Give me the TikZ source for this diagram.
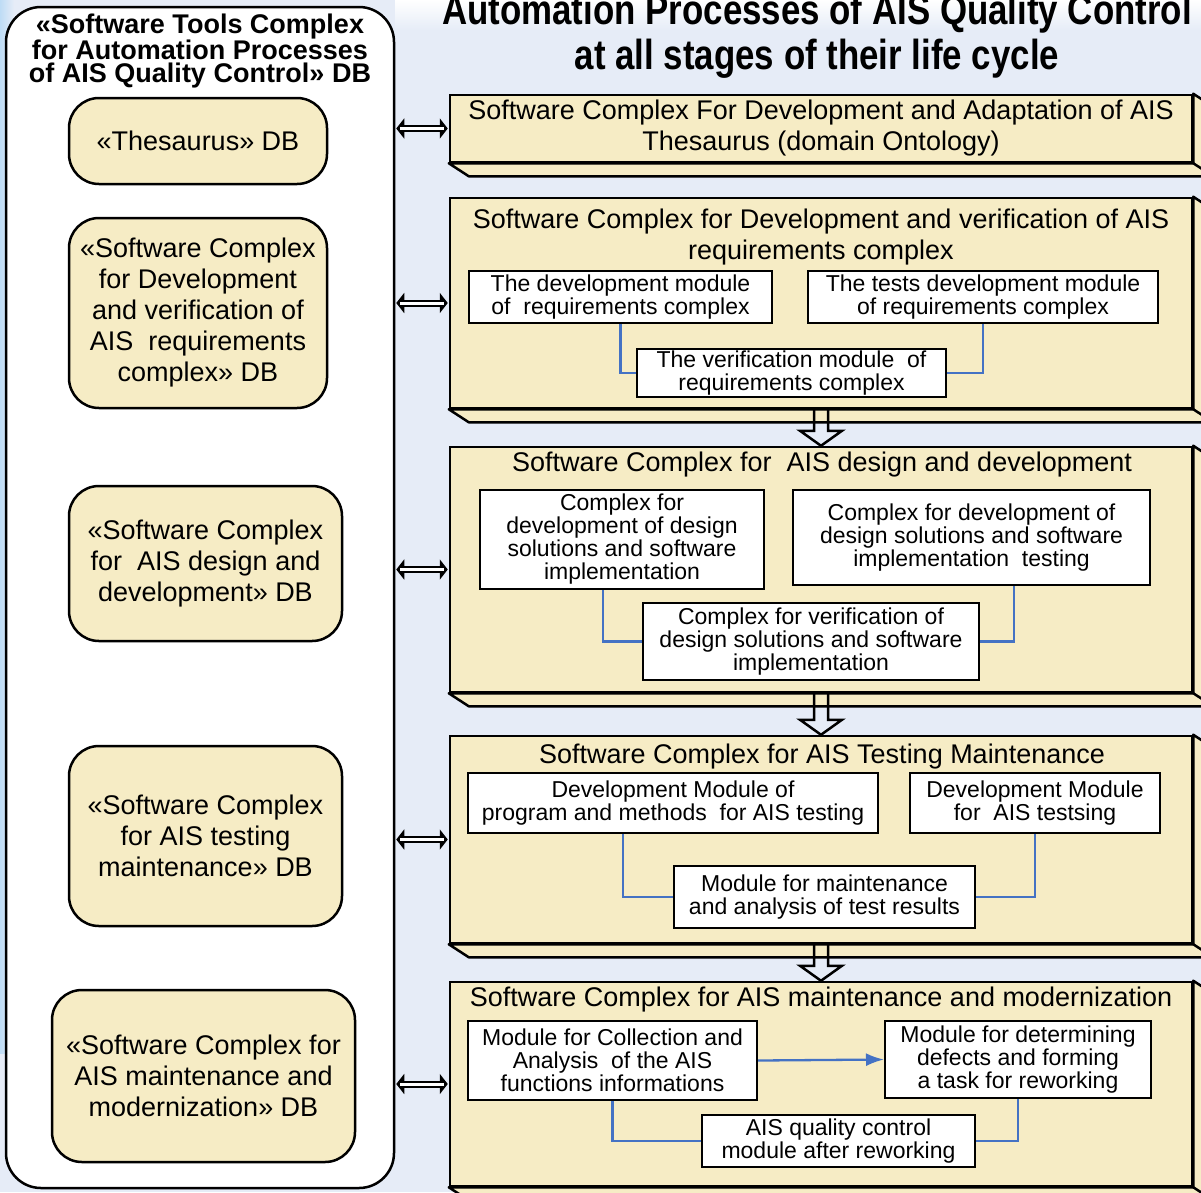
\documentclass[tikz,border=0pt]{standalone}
\usepackage{fontspec}
\setmainfont{Liberation Sans}
\newfontfamily\narrowfont[FakeStretch=0.83]{Liberation Sans}
\usetikzlibrary{arrows.meta,calc}

\definecolor{paper}{RGB}{230,236,247}
\definecolor{sand}{RGB}{246,236,197}
\definecolor{linkblue}{RGB}{68,114,196}
\definecolor{edgeblue}{RGB}{190,220,245}

\newcommand{\stagefont}{\fontsize{27}{31}\selectfont}
\newcommand{\modfont}{\fontsize{23}{23}\selectfont}
\newcommand{\headfont}{\fontsize{27}{23.5}\selectfont\bfseries}

\tikzset{
  dbbox/.style={draw, line width=2.5pt, rounded corners=30pt, fill=sand, align=center, font=\stagefont},
  stage/.style={draw, line width=2.5pt, fill=sand, align=center, font=\stagefont, minimum width=742},
  module/.style={draw, line width=2pt, fill=white, align=center, inner sep=0pt, font=\modfont},
  link/.style={draw=linkblue, line width=2.3pt},
  twoway/.style={line width=7pt, {Triangle[length=8pt,width=20pt]}-{Triangle[length=8pt,width=20pt]},
    postaction={draw=white, line width=3pt, arrows=-, shorten <=4pt, shorten >=4pt}},
  flow/.style={line width=2.5pt, line join=miter},
}

\begin{document}
\begin{tikzpicture}[x=1pt,y=-1pt]
\useasboundingbox (0,0) rectangle (1201,1192);
\fill[paper] (0,0) rectangle (1201,1192);
\shade[left color=edgeblue, right color=paper] (0,0) rectangle (14,1053);
\shade[top color=white, bottom color=paper] (395,0) rectangle (1201,30);

% title
\node[font=\narrowfont\fontsize{42}{45}\selectfont\bfseries, align=center] (title) at (817,36)
  {Automation Processes of AIS Quality Control\\at all stages of their life cycle};

% left column: data bases
\node[draw, line width=2.5pt, fill=white, rounded corners=35pt, minimum width=388, minimum height=1181] (tools) at (200,597.5) {};
\node[font=\headfont, align=center] (head) at (200,51) {«Software Tools Complex\\for Automation Processes\\of AIS Quality Control» DB};
\node[dbbox, minimum width=258, minimum height=86] (db1) at (198,141) {«Thesaurus» DB};
\node[dbbox, minimum width=258, minimum height=190] (db2) at (198,313) {«Software Complex\\for Development\\and verification of\\AIS\ \ requirements\\complex» DB};
\node[dbbox, minimum width=273, minimum height=155] (db3) at (205.5,563.5) {«Software Complex\\for\ \ AIS design and\\development» DB};
\node[dbbox, minimum width=273, minimum height=180] (db4) at (205.5,836) {«Software Complex\\for AIS testing\\maintenance» DB};
\node[dbbox, minimum width=303, minimum height=172] (db5) at (203.5,1076) {«Software Complex for\\AIS maintenance and\\modernization» DB};

% right column: software complexes
\node[stage, minimum height=67] (s1) at (821,128.5) {Software Complex For Development and Adaptation of AIS\\Thesaurus (domain Ontology)};
\node[stage, minimum height=210] (s2) at (821,303) {};
\node[stage, minimum height=245] (s3) at (821,569.5) {};
\node[stage, minimum height=207] (s4) at (821,839.5) {};
\node[stage, minimum height=204] (s5) at (821,1084) {};
\foreach \s in {s1,s2,s3,s4,s5} {
  \filldraw[fill=sand, line width=2.5pt, line join=round] (\s.south west) -- ++(20,13) -- ($(\s.south east)+(20,13)$)
    -- ($(\s.north east)+(20,13)$) -- (\s.north east) -- (\s.south east) -- cycle;
  \draw[line width=2.5pt] (\s.south east) -- ++(20,13);
  \draw[twoway] ([xshift=1pt]tools.east |- \s.west) -- ([xshift=-1pt]\s.west);
}
\foreach \a/\b in {s2/s3,s3/s4,s4/s5}
  \draw[flow] ([xshift=-7pt]\a.south) -- ([xshift=-7pt,yshift=15pt]\b.north) -- ([xshift=-21pt,yshift=15pt]\b.north)
    -- (\b.north) -- ([xshift=21pt,yshift=15pt]\b.north) -- ([xshift=7pt,yshift=15pt]\b.north) -- ([xshift=7pt]\a.south);

\node[font=\stagefont, align=center] (t2) at (821,237.5) {Software Complex for Development and verification of AIS\\requirements complex};
\node[font=\stagefont] (t3) at (822,465) {Software Complex for\ \ AIS design and development};
\node[font=\stagefont] (t4) at (822,757) {Software Complex for AIS Testing Maintenance};
\node[font=\stagefont] (t5) at (821,1000) {Software Complex for AIS maintenance and modernization};

% modules
\node[module, minimum width=303, minimum height=52] (m21) at (620.5,297) {The development module\\of\ \ requirements complex};
\node[module, minimum width=350, minimum height=52] (m22) at (983,297) {The tests development module\\of requirements complex};
\node[module, minimum width=309, minimum height=48] (m23) at (791.5,373) {The verification module\ \ of\\requirements complex};
\draw[link] (m21.south) |- (m23.west);
\draw[link] (m22.south) |- (m23.east);

\node[module, minimum width=284, minimum height=99] (m31) at (622,539.5) {Complex for\\development of design\\solutions and software\\implementation};
\node[module, minimum width=357, minimum height=95] (m32) at (971.5,537.5) {Complex for development of\\design solutions and software\\implementation\ \ testing};
\node[module, minimum width=336, minimum height=77] (m33) at (811,641.5) {Complex for verification of\\design solutions and software\\implementation};
\draw[link] ([xshift=-19pt]m31.south) |- (m33.west);
\draw[link] ([xshift=42.5pt]m32.south) |- (m33.east);

\node[module, minimum width=410, minimum height=60] (m41) at (673,803) {Development Module of\\program and methods\ \ for AIS testing};
\node[module, minimum width=250, minimum height=60] (m42) at (1035,803) {Development Module\\for\ \ AIS testsing};
\node[module, minimum width=301, minimum height=62] (m43) at (824.5,897) {Module for maintenance\\and analysis of test results};
\draw[link] ([xshift=-50pt]m41.south) |- (m43.west);
\draw[link] (m42.south) |- (m43.east);

\node[module, minimum width=289, minimum height=79] (m51) at (612.5,1060.5) {Module for Collection and\\Analysis\ \ of the AIS\\functions informations};
\node[module, minimum width=266, minimum height=77] (m52) at (1018,1059.5) {Module for determining\\defects and forming\\a task for reworking};
\node[module, minimum width=273, minimum height=52] (m53) at (838.5,1141) {AIS quality control\\module after reworking};
\draw[link, -{Latex[length=18pt,width=13pt]}] (m51.east) -- (m52.west);
\draw[link] (m51.south) |- (m53.west);
\draw[link] (m52.south) |- (m53.east);
\end{tikzpicture}
\end{document}
